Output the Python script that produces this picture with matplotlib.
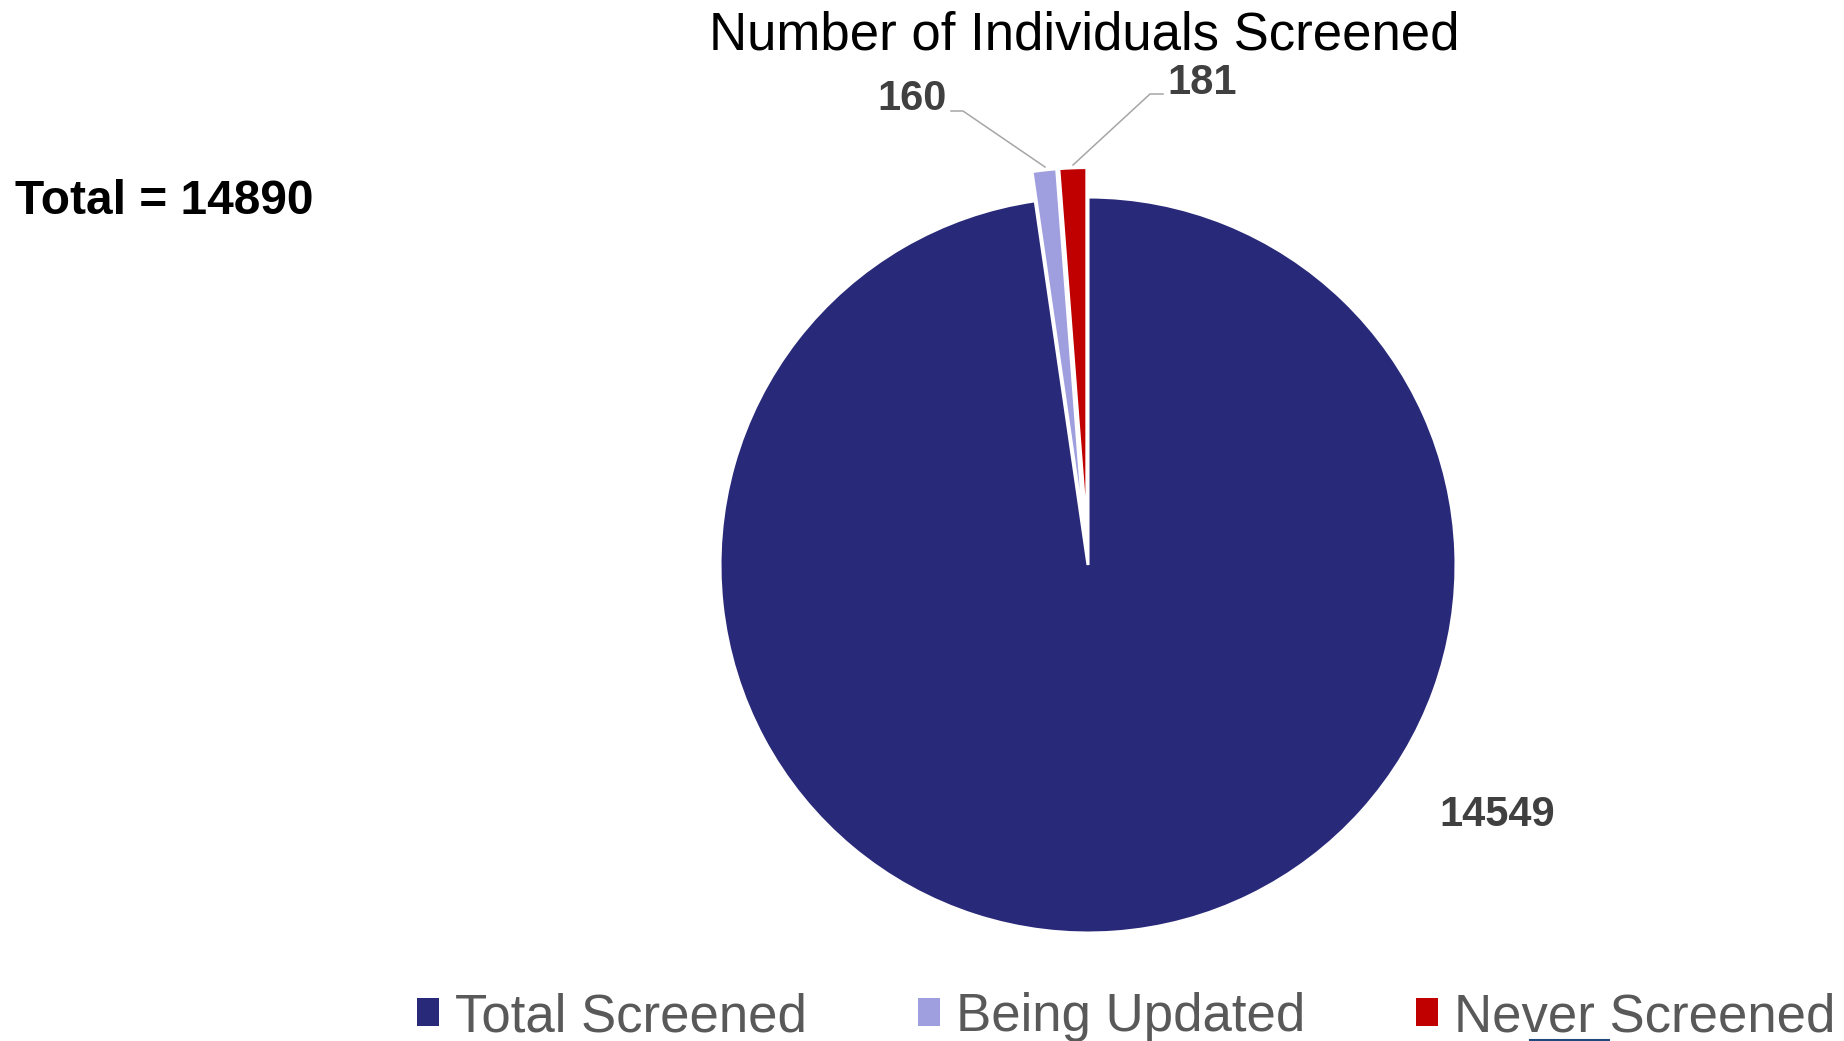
import matplotlib.pyplot as plt
from matplotlib.patches import Patch

# screening counts
labels = ['Total Screened', 'Being Updated', 'Never Screened']
counts = [14549, 160, 181]
colors = ['#29297A', '#9F9FDF', '#C00000']
total = sum(counts)

plt.rcParams['font.family'] = ['Liberation Sans', 'DejaVu Sans']

W, H = 1844, 1041
R = 368
# explode is in data units, so scale by radius
explode = [0, 0.08 * R, 0.08 * R]

fig = plt.figure(figsize=(W / 100, H / 100), dpi=100)
ax = fig.add_axes([0, 0, 1, 1])

# pie drawn in pixel-like coordinates (y up)
wedges, _ = ax.pie(counts, colors=colors, explode=explode, startangle=90,
                   counterclock=False, center=(1088, H - 565), radius=R,
                   frame=True, wedgeprops=dict(edgecolor='white', linewidth=2.2))
ax.set_xlim(0, W)
ax.set_ylim(0, H)
ax.set_aspect('equal')
ax.axis('off')

# data labels with leader lines
lab_col = '#404040'
line_col = '#A6A6A6'
ax.text(1497, H - 815, str(counts[0]), ha='center', va='center',
        fontsize=30, fontweight='bold', color=lab_col)
ax.plot([951, 963, 1045], [H - 111, H - 111, H - 167], color=line_col, lw=1.1)
ax.text(912, H - 99, str(counts[1]), ha='center', va='center',
        fontsize=30, fontweight='bold', color=lab_col)
ax.plot([1163, 1150, 1073], [H - 94, H - 94, H - 165], color=line_col, lw=1.1)
ax.text(1202, H - 83, str(counts[2]), ha='center', va='center',
        fontsize=30, fontweight='bold', color=lab_col)

ax.text(1084, H - 35, 'Number of Individuals Screened', ha='center', va='center',
        fontsize=38, color='black')
ax.text(15, H - 201, 'Total = ' + str(total), ha='left', va='center',
        fontsize=34.5, fontweight='bold', color='black')

handles = [Patch(facecolor=c, edgecolor='none') for c in colors]
leg = ax.legend(handles, labels, loc='center', bbox_to_anchor=(1126 / W, 24 / H),
                bbox_transform=fig.transFigure, ncol=3, frameon=False,
                fontsize=38, handlelength=0.42, handleheight=0.42,
                handletextpad=0.3, columnspacing=2.1, borderpad=0, borderaxespad=0)
for t in leg.get_texts():
    t.set_color('#595959')

ax.plot([1530, 1609], [1, 1], color='#1F497D', lw=1.5)

fig.savefig('out.png', dpi=100)
